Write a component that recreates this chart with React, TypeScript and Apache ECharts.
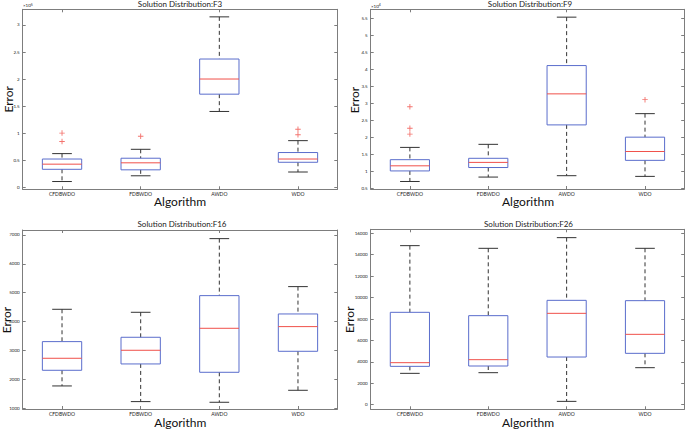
import React, { useEffect, useRef } from "react";
import * as echarts from "echarts";

const categories = ["CFDBWDO", "FDBWDO", "AWDO", "WDO"];

// [min whisker, Q1, median, Q3, max whisker]
const f3Stats = [
  [10400, 33000, 42500, 52000, 62000],
  [21000, 32000, 45000, 53500, 70000],
  [140000, 172000, 200000, 237000, 315000],
  [28000, 46000, 52000, 64000, 86000],
];
const f3Outliers = [
  [0, 84500], [0, 100000],
  [1, 94000],
  [3, 97000], [3, 107000],
];

const f9Stats = [
  [7100, 10200, 11700, 13500, 17100],
  [8400, 11200, 12700, 13900, 18000],
  [8800, 23700, 32800, 41100, 55300],
  [8600, 13300, 15900, 20100, 27000],
];
const f9Outliers = [
  [0, 21000], [0, 22700], [0, 29000],
  [3, 31100],
];

const f16Stats = [
  [1773, 2315, 2731, 3308, 4427],
  [1231, 2535, 3008, 3458, 4323],
  [1208, 2246, 3769, 4900, 6873],
  [1623, 2973, 3827, 4265, 5212],
];
const f16Outliers: number[][] = [];

const f26Stats = [
  [2926, 3580, 3922, 8623, 14848],
  [2988, 3611, 4202, 8311, 14599],
  [311, 4451, 8529, 9743, 15595],
  [3455, 4794, 6568, 9712, 14599],
];
const f26Outliers: number[][] = [];

const titles = [
  "Solution Distribution:F3",
  "Solution Distribution:F9",
  "Solution Distribution:F16",
  "Solution Distribution:F26",
];
const yRanges = [
  [-4000, 329000],
  [4900, 57600],
  [975, 7172],
  [-430, 16374],
];
const tickSteps = [50000, 5000, 1000, 2000];
const labelScales = [100000, 10000, 1, 1];
const exponents = ["5", "4", "", ""];

const FONT = "Lato";
const BOX = "#5a6dcc";
const MED = "#f0504a";
const WHISK = "#333333";
const FRAME = "#7d7d7d";

const layouts = [
  { left: 22.7, top: 9.3, width: 314.6, height: 180 },
  { left: 370.7, top: 9.3, width: 313.5, height: 179.7 },
  { left: 22.7, top: 230, width: 314.6, height: 179 },
  { left: 370.7, top: 229.3, width: 313.5, height: 180 },
];
const titlePos = [
  [180, 3.8], [530, 3.8], [182, 224.3], [528.5, 224],
];
const errorPos = [
  [8.3, 99.3], [354.2, 100], [6.6, 320], [349.5, 319.7],
];
const algoPos = [
  [180, 201.3], [528, 201.7], [180.3, 422.3], [528, 422],
];
const expPos = [
  [23, 5.7], [371, 6],
];

const plusPath = "path://M-1,-6H1V-1H6V1H1V6H-1V1H-6V-1H-1Z";

export default function App() {
  const ref = useRef<HTMLDivElement>(null);
  useEffect(() => {
    if (!ref.current) return;
    const chart = echarts.init(ref.current, undefined, { renderer: "svg" });
    const statsAll = [f3Stats, f9Stats, f16Stats, f26Stats];
    const outAll = [f3Outliers, f9Outliers, f16Outliers, f26Outliers];

    const grids: any[] = [];
    const xAxes: any[] = [];
    const yAxes: any[] = [];
    const series: any[] = [];
    const graphics: any[] = [];

    for (let i = 0; i < 4; i++) {
      const L = layouts[i];
      grids.push({ left: L.left, top: L.top, width: L.width, height: L.height, outerBoundsMode: "none" });
      const [mn, mx] = yRanges[i];
      const step = tickSteps[i];
      const sc = labelScales[i];
      const splitNumber = Math.round((mx - mn) / step);
      const fmt = (v: number) => {
        const q = v / step;
        if (Math.abs(q - Math.round(q)) > 1e-6) return "";
        return String(+(v / sc).toFixed(2));
      };
      const lineStyle = { color: FRAME, width: 1 };
      xAxes.push({
        type: "category", gridIndex: i, data: categories, position: "bottom",
        boundaryGap: true,
        axisLine: { show: true, onZero: false, lineStyle },
        axisTick: { show: true, inside: true, length: 3, alignWithLabel: true, lineStyle },
        axisLabel: { show: true, fontSize: 5, fontFamily: FONT, color: "#222", margin: 2 },
        splitLine: { show: false },
      });
      xAxes.push({
        type: "category", gridIndex: i, data: categories, position: "top",
        boundaryGap: true,
        axisLine: { show: true, onZero: false, lineStyle },
        axisTick: { show: true, inside: true, length: 3, alignWithLabel: true, lineStyle },
        axisLabel: { show: false },
        splitLine: { show: false },
      });
      yAxes.push({
        type: "value", gridIndex: i, min: mn, max: mx, splitNumber, position: "left",
        axisLine: { show: true, onZero: false, lineStyle },
        axisTick: { show: true, inside: true, length: 3, lineStyle },
        axisLabel: { show: true, fontSize: 4.5, fontFamily: FONT, color: "#222", margin: 3, formatter: fmt, showMinLabel: true, showMaxLabel: true },
        splitLine: { show: false },
      });
      yAxes.push({
        type: "value", gridIndex: i, min: mn, max: mx, splitNumber, position: "right",
        axisLine: { show: true, onZero: false, lineStyle },
        axisTick: { show: true, inside: true, length: 3, lineStyle },
        axisLabel: { show: false },
        splitLine: { show: false },
      });

      const boxData = statsAll[i].map((s, k) => [k, ...s]);
      series.push({
        type: "custom",
        xAxisIndex: 2 * i,
        yAxisIndex: 2 * i,
        data: boxData,
        encode: { x: 0, y: [1, 2, 3, 4, 5] },
        clip: false,
        renderItem: (params: any, api: any) => {
          const idx = api.value(0);
          const lo = api.coord([idx, api.value(1)]);
          const q1 = api.coord([idx, api.value(2)]);
          const md = api.coord([idx, api.value(3)]);
          const q3 = api.coord([idx, api.value(4)]);
          const hi = api.coord([idx, api.value(5)]);
          const band = api.size([1, 0])[0];
          const bw = band * 0.5;
          const cw = band * 0.25;
          const x = lo[0];
          const dash = { stroke: WHISK, lineWidth: 1, lineDash: [4, 3], fill: null };
          const solid = { stroke: WHISK, lineWidth: 1, fill: null };
          return {
            type: "group",
            children: [
              { type: "line", shape: { x1: x, y1: hi[1], x2: x, y2: q3[1] }, style: dash },
              { type: "line", shape: { x1: x, y1: q1[1], x2: x, y2: lo[1] }, style: dash },
              { type: "line", shape: { x1: x - cw / 2, y1: hi[1], x2: x + cw / 2, y2: hi[1] }, style: solid },
              { type: "line", shape: { x1: x - cw / 2, y1: lo[1], x2: x + cw / 2, y2: lo[1] }, style: solid },
              { type: "rect", shape: { x: x - bw / 2, y: q3[1], width: bw, height: q1[1] - q3[1] }, style: { stroke: BOX, lineWidth: 1, fill: "none" } },
              { type: "line", shape: { x1: x - bw / 2, y1: md[1], x2: x + bw / 2, y2: md[1] }, style: { stroke: MED, lineWidth: 1, fill: null } },
            ],
          };
        },
      });
      if (outAll[i].length) {
        series.push({
          type: "scatter",
          xAxisIndex: 2 * i,
          yAxisIndex: 2 * i,
          data: outAll[i],
          symbol: plusPath,
          symbolSize: 5.5,
          itemStyle: { color: MED },
        });
      }

      graphics.push({
        type: "text", x: titlePos[i][0], y: titlePos[i][1],
        style: { text: titles[i], fontSize: 8, fontFamily: FONT, fill: "#222", textAlign: "center", textVerticalAlign: "middle" },
      });
      graphics.push({
        type: "text", x: errorPos[i][0], y: errorPos[i][1], rotation: Math.PI / 2,
        style: { text: "Error", fontSize: 12, fontFamily: FONT, fill: "#111", textAlign: "center", textVerticalAlign: "middle" },
      });
      graphics.push({
        type: "text", x: algoPos[i][0], y: algoPos[i][1],
        style: { text: "Algorithm", fontSize: 12, fontFamily: FONT, fill: "#111", textAlign: "center", textVerticalAlign: "middle" },
      });
      if (exponents[i]) {
        graphics.push({
          type: "text", x: expPos[i][0], y: expPos[i][1],
          style: {
            text: "{a|×10}{b|" + exponents[i] + "}",
            textVerticalAlign: "middle",
            rich: {
              a: { fontSize: 4.5, fontFamily: FONT, fill: "#222" },
              b: { fontSize: 3.5, fontFamily: FONT, fill: "#222", verticalAlign: "top", padding: [0, 0, 2, 0] },
            },
          },
        });
      }
    }

    chart.setOption({
      animation: false,
      backgroundColor: "#ffffff",
      grid: grids,
      xAxis: xAxes,
      yAxis: yAxes,
      series,
      graphic: graphics,
    });
    return () => chart.dispose();
  }, []);
  return (
    <div
      ref={ref}
      style={{ position: "fixed", left: 0, top: 0, width: 685, height: 429 }}
    />
  );
}
